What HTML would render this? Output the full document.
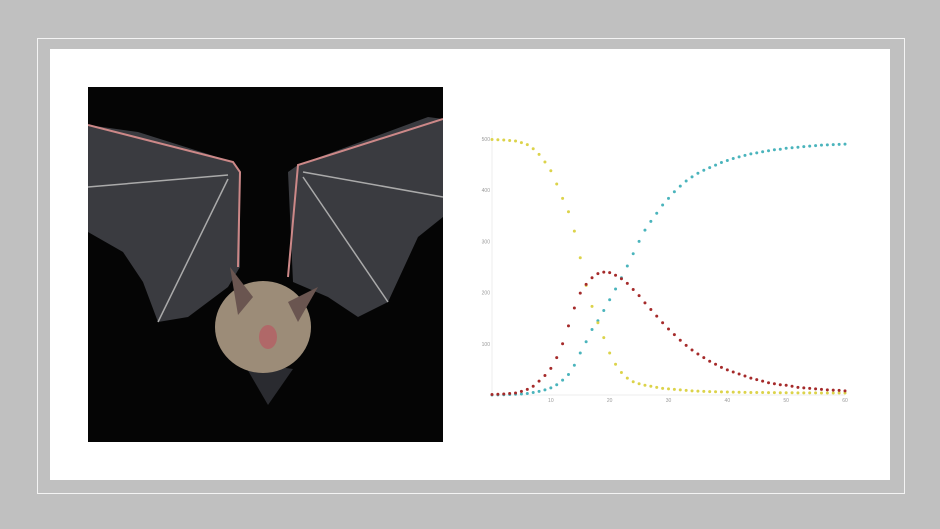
<!DOCTYPE html>
<html><head><meta charset="utf-8"><style>
body{margin:0;width:940px;height:529px;background:#c0c0c0;position:relative;overflow:hidden;font-family:"Liberation Sans",sans-serif}
#frame{position:absolute;left:37px;top:38px;width:866px;height:454px;border:1px solid #f4f4f4}
#card{position:absolute;left:50px;top:49px;width:840px;height:431px;background:#fff}
#photo{position:absolute;left:88px;top:87px;width:355px;height:355px;background:#050505}
#chart{position:absolute;left:0;top:0}
</style></head><body>
<div id="frame"></div>
<div id="card"></div>
<svg id="photo" viewBox="0 0 355 355">
<rect width="355" height="355" fill="#050505"/>
<polygon points="0,38 50,45 145,75 152,85 152,180 140,200 100,230 70,235 55,195 35,165 0,145" fill="#3a3b40"/>
<polygon points="210,78 340,30 355,32 355,130 330,150 300,215 270,230 240,210 205,195 200,85" fill="#3a3b40"/>
<polyline points="0,38 145,75 152,85 150,180" fill="none" stroke="#c88" stroke-width="2"/>
<polyline points="0,100 140,88" fill="none" stroke="#aaa" stroke-width="1.5"/>
<polyline points="70,235 140,92" fill="none" stroke="#aaa" stroke-width="1.5"/>
<polyline points="355,32 210,78 200,190" fill="none" stroke="#c88" stroke-width="2"/>
<polyline points="355,110 215,85" fill="none" stroke="#aaa" stroke-width="1.5"/>
<polyline points="300,215 215,90" fill="none" stroke="#aaa" stroke-width="1.5"/>
<polygon points="155,275 205,282 180,318" fill="#2a2b30"/>
<ellipse cx="175" cy="240" rx="48" ry="46" fill="#9c8c78"/>
<polygon points="142,180 165,210 150,228" fill="#6a5550"/>
<polygon points="230,200 200,215 210,235" fill="#6a5550"/>
<ellipse cx="180" cy="250" rx="9" ry="12" fill="#b06868"/>
</svg>
<svg id="chart" width="940" height="529"></svg>
<script>
const days=[0,1,2,3,4,5,6,7,8,9,10,11,12,13,14,15,16,17,18,19,20,21,22,23,24,25,26,27,28,29,30,31,32,33,34,35,36,37,38,39,40,41,42,43,44,45,46,47,48,49,50,51,52,53,54,55,56,57,58,59,60];
const susceptible=[499,498.5,498,497,496,493,489,481,470,455,438,412,384,358,320,268,214,173,141,112,82,60,44,33,26,22,19,17,15,13,12,11,10,9,8,7.5,7,6.6,6.3,6,5.8,5.6,5.4,5.2,5,4.9,4.8,4.7,4.6,4.5,4.4,4.3,4.2,4.2,4.1,4.1,4,4,4,4,4];
const infected=[1,1.5,2,3,4,7,11,17,27,38,52,73,100,135,170,199,216,229,237,240,239,234,227,218,206,194,180,167,154,141,129,118,107,97,88,80,73,66,60,54,49,45,41,37,33,30,27,24,22,20,19,17,15,14,13,12,11,10,9.5,9,8];
const recovered=[0,0.3,0.6,1,1.5,2,3,5,7,10,14,20,29,40,58,82,104,128,145,165,186,207,229,252,276,300,322,339,355,371,384,397,408,418,426,433,439,444,449,454,458,462,465,468,471,473,475,477,479,480,482,483,484,485,486,487,488,488.5,489,489.5,490];
const xTicks=[10,20,30,40,50,60];
const yTicks=[100,200,300,400,500];
const NS='http://www.w3.org/2000/svg';
const svg=document.getElementById('chart');
const X0=492,X1=845,Y0=395,Y1=139;
function xs(v){return X0+(X1-X0)*v/60;}
function ys(v){return Y0-(Y0-Y1)*v/500;}
function mk(t,a){const e=document.createElementNS(NS,t);for(const k in a)e.setAttribute(k,a[k]);svg.appendChild(e);return e;}
let ax=mk('line',{x1:X0,y1:130,x2:X0,y2:Y0,stroke:'#eee','stroke-width':1});


let bx=mk('line',{x1:X0,y1:Y0,x2:X1,y2:Y0,stroke:'#eee','stroke-width':1});


xTicks.forEach(t=>{const e=mk('text',{x:xs(t),y:Y0+7,'font-size':5,fill:'#999','text-anchor':'middle'});e.textContent=t;

});
yTicks.forEach(t=>{const e=mk('text',{x:X0-2,y:ys(t)+2,'font-size':5,fill:'#999','text-anchor':'end'});e.textContent=t;

});
function series(vals,color,name){days.forEach((d,i)=>{const c=mk('circle',{cx:xs(d),cy:ys(vals[i]),r:1.5,fill:color});

});}
series(recovered,'#4ab4bc','recovered');
series(susceptible,'#dcd34a','susceptible');
series(infected,'#a52a2a','infected');
</script>
</body></html>
